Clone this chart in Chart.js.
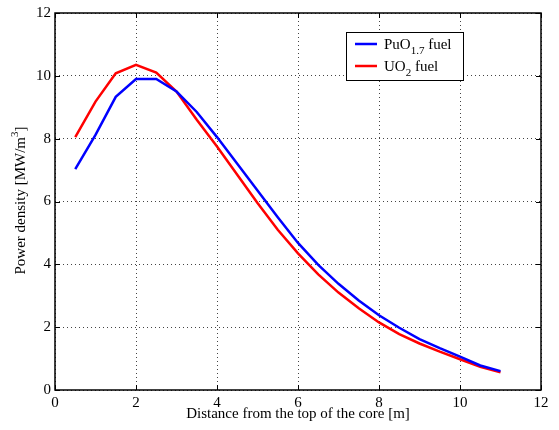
<!DOCTYPE html>
<html>
<head>
<meta charset="utf-8">
<script src="https://cdn.jsdelivr.net/npm/chart.js@4/dist/chart.umd.min.js"></script>
<style>
  html, body { margin: 0; padding: 0; background: #fff; }
  #wrap { width: 559px; height: 430px; }
</style>
</head>
<body>
<div id="wrap"><canvas id="powerChart" width="559" height="430"></canvas></div>
<script>
// distance from top of core [m]
const distance = [0.5, 1, 1.5, 2, 2.5, 3, 3.5, 4, 4.5, 5, 5.5, 6, 6.5, 7, 7.5, 8, 8.5, 9, 9.5, 10, 10.5, 11];
const puoFuel = [7.03, 8.12, 9.33, 9.9, 9.9, 9.5, 8.85, 8.05, 7.2, 6.35, 5.5, 4.68, 3.98, 3.38, 2.85, 2.38, 1.98, 1.62, 1.33, 1.06, 0.78, 0.6];
const uo2Fuel = [8.05, 9.18, 10.08, 10.35, 10.1, 9.5, 8.6, 7.75, 6.85, 5.95, 5.1, 4.35, 3.68, 3.1, 2.6, 2.15, 1.78, 1.48, 1.22, 0.98, 0.74, 0.56];
const xTicks = [0, 2, 4, 6, 8, 10, 12];
const yTicks = [0, 2, 4, 6, 8, 10, 12];

const serif = "'Liberation Serif', 'DejaVu Serif', serif";

function toPoints(ys){
  return distance.map((d, i) => ({ x: d, y: ys[i] }));
}

// inward ticks on all four sides + box + axis titles + legend with subscripts
const matlabStyle = {
  id: "matlabStyle",
  afterDraw(chart){
    const ctx = chart.ctx;
    const a = chart.chartArea;
    const xs = chart.scales.x;
    const ys = chart.scales.y;
    ctx.save();
    ctx.strokeStyle = "#000";
    ctx.lineWidth = 1;
    xTicks.forEach(t => {
      const px = Math.round(xs.getPixelForValue(t)) + 0.5;
      ctx.beginPath();
      ctx.moveTo(px, a.bottom); ctx.lineTo(px, a.bottom - 5);
      ctx.moveTo(px, a.top); ctx.lineTo(px, a.top + 5);
      ctx.stroke();
    });
    yTicks.forEach(t => {
      const py = Math.round(ys.getPixelForValue(t)) + 0.5;
      ctx.beginPath();
      ctx.moveTo(a.left, py); ctx.lineTo(a.left + 5, py);
      ctx.moveTo(a.right, py); ctx.lineTo(a.right - 5, py);
      ctx.stroke();
    });
    ctx.lineWidth = 1.5;
    ctx.strokeRect(a.left, a.top, a.right - a.left, a.bottom - a.top);

    // axis titles
    ctx.fillStyle = "#000";
    ctx.font = "15px " + serif;
    ctx.textAlign = "center";
    ctx.textBaseline = "alphabetic";
    ctx.fillText("Distance from the top of the core [m]", (a.left + a.right) / 2, 418);

    ctx.save();
    ctx.translate(25, (a.top + a.bottom) / 2 - 1);
    ctx.rotate(-Math.PI / 2);
    ctx.textAlign = "left";
    const base = "Power density [MW/m";
    const wBase = ctx.measureText(base).width;
    ctx.font = "11px " + serif;
    const wSup = ctx.measureText("3").width;
    ctx.font = "15px " + serif;
    const wEnd = ctx.measureText("]").width;
    let x0 = -(wBase + wSup + wEnd) / 2;
    ctx.fillText(base, x0, 0);
    ctx.font = "11px " + serif;
    ctx.fillText("3", x0 + wBase, -7);
    ctx.font = "15px " + serif;
    ctx.fillText("]", x0 + wBase + wSup, 0);
    ctx.restore();

    // legend
    const lx = 346, ly = 32, lw = 117, lh = 48;
    ctx.fillStyle = "#fff";
    ctx.fillRect(lx, ly, lw, lh);
    ctx.lineWidth = 1;
    ctx.strokeStyle = "#000";
    ctx.strokeRect(lx + 0.5, ly + 0.5, lw, lh);
    const entries = [
      { color: "#0000ff", main: "PuO", sub: "1.7", tail: " fuel", y: 44 },
      { color: "#ff0000", main: "UO", sub: "2", tail: " fuel", y: 66 }
    ];
    entries.forEach(e => {
      ctx.strokeStyle = e.color;
      ctx.lineWidth = 2.5;
      ctx.beginPath();
      ctx.moveTo(355, e.y); ctx.lineTo(377, e.y);
      ctx.stroke();
      ctx.fillStyle = "#000";
      ctx.textAlign = "left";
      ctx.font = "15px " + serif;
      let tx = 384;
      ctx.fillText(e.main, tx, e.y + 5);
      tx += ctx.measureText(e.main).width;
      ctx.font = "11px " + serif;
      ctx.fillText(e.sub, tx, e.y + 10);
      tx += ctx.measureText(e.sub).width;
      ctx.font = "15px " + serif;
      ctx.fillText(e.tail, tx, e.y + 5);
    });
    ctx.restore();
  }
};

new Chart(document.getElementById("powerChart"), {
  type: "line",
  data: {
    datasets: [
      {
        label: "PuO1.7 fuel",
        data: toPoints(puoFuel),
        borderColor: "#0000ff",
        borderWidth: 2.5,
        pointRadius: 0,
        tension: 0,
        fill: false
      },
      {
        label: "UO2 fuel",
        data: toPoints(uo2Fuel),
        borderColor: "#ff0000",
        borderWidth: 2.5,
        pointRadius: 0,
        tension: 0,
        fill: false
      }
    ]
  },
  options: {
    responsive: false,
    animation: false,
    devicePixelRatio: 1,
    layout: { padding: { top: 7, right: 18, left: 0, bottom: 0 } },
    plugins: {
      legend: { display: false },
      tooltip: { enabled: false }
    },
    scales: {
      x: {
        type: "linear",
        min: 0,
        max: 12,
        afterFit(scale){ scale.height = 40; },
        afterBuildTicks(scale){ scale.ticks = xTicks.map(v => ({ value: v })); },
        ticks: {
          color: "#000",
          font: { family: serif, size: 15 },
          padding: 4
        },
        grid: {
          color: "#444",
          lineWidth: 1,
          tickLength: 0,
          drawTicks: false
        },
        border: { display: false, dash: [1, 3] }
      },
      y: {
        min: 0,
        max: 12,
        afterFit(scale){ scale.width = 55; },
        afterBuildTicks(scale){ scale.ticks = yTicks.map(v => ({ value: v })); },
        ticks: {
          color: "#000",
          font: { family: serif, size: 15 },
          padding: 4
        },
        grid: {
          color: "#444",
          lineWidth: 1,
          tickLength: 0,
          drawTicks: false
        },
        border: { display: false, dash: [1, 3] }
      }
    }
  },
  plugins: [matlabStyle]
});
</script>
</body>
</html>
